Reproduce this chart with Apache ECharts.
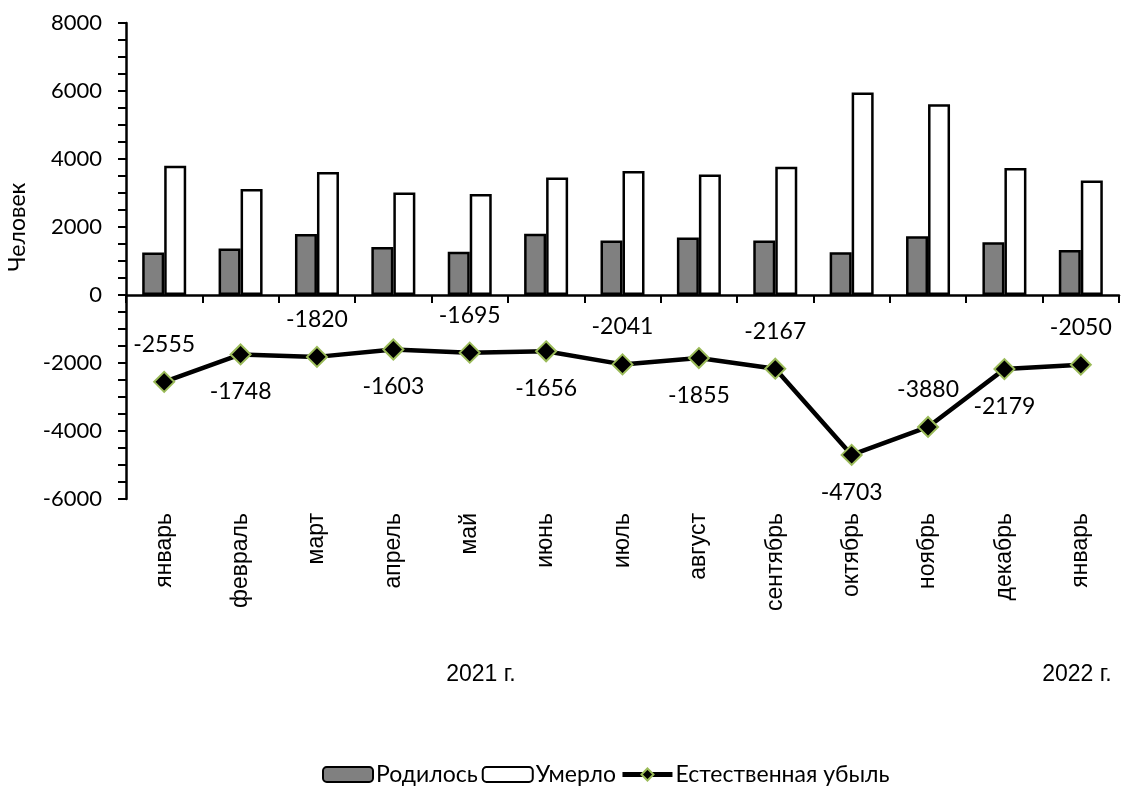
<!DOCTYPE html>
<html>
<head>
<meta charset="utf-8">
<script src="https://cdn.jsdelivr.net/npm/echarts@6/dist/echarts.min.js"></script>
<style>
  html, body { margin: 0; padding: 0; background: #fff; }
  #chart { width: 1131px; height: 792px; }
</style>
</head>
<body>
<div id="chart"></div>
<script>
// months, 2021 Jan .. 2022 Jan
const months = ['январь', 'февраль', 'март', 'апрель', 'май', 'июнь', 'июль',
  'август', 'сентябрь', 'октябрь', 'ноябрь', 'декабрь', 'январь'];
const born = [1250, 1370, 1795, 1415, 1275, 1800, 1605, 1690, 1605, 1255, 1730, 1555, 1320];
const died = [3805, 3118, 3615, 3018, 2970, 3456, 3646, 3545, 3772, 5958, 5610, 3734, 3370];
const naturalLoss = [-2555, -1748, -1820, -1603, -1695, -1656, -2041, -1855, -2167, -4703, -3880, -2179, -2050];
const yearLabels = ['2021 г.', '2022 г.'];

const numFont = 'Lato';
const txtFont = 'Liberation Sans';

const chart = echarts.init(document.getElementById('chart'));

const option = {
  animation: false,
  grid: { left: 126, right: 12, top: 23, bottom: 293, containLabel: false },
  xAxis: [
    {
      type: 'category',
      data: months,
      position: 'bottom',
      axisLine: { onZero: true, lineStyle: { color: '#000', width: 2.5 } },
      axisTick: { show: true, length: 8, lineStyle: { color: '#000', width: 2 } },
      axisLabel: { show: false },
      splitLine: { show: false }
    },
    {
      // labels only, kept at the bottom of the plot
      type: 'category',
      data: months,
      position: 'bottom',
      axisLine: { show: false, onZero: false },
      axisTick: { show: false },
      axisLabel: {
        rotate: 90,
        interval: 0,
        margin: 14,
        color: '#000',
        fontSize: 23,
        fontFamily: txtFont
      }
    }
  ],
  yAxis: {
    type: 'value',
    min: -6000,
    max: 8000,
    interval: 2000,
    axisLine: { show: true, lineStyle: { color: '#000', width: 2.5 } },
    axisTick: { show: true, length: 8, lineStyle: { color: '#000', width: 2 } },
    minorTick: { show: true, splitNumber: 4, length: 8, lineStyle: { color: '#000', width: 2 } },
    splitLine: { show: false },
    axisLabel: {
      color: '#000', fontSize: 22, fontFamily: numFont, margin: 24,
      formatter: (v) => String(v)
    }
  },
  legend: {
    top: 763,
    left: 322,
    padding: 0,
    itemWidth: 50,
    itemHeight: 15,
    itemGap: 4,
    textStyle: { color: '#000', fontSize: 23, fontFamily: numFont, padding: [0, 0, 0, -2] },
    data: [
      { name: 'Родилось' },
      { name: 'Умерло' },
      {
        name: 'Естественная убыль',
        lineStyle: { width: 5, color: '#000' },
        itemStyle: { color: '#000', borderColor: '#9BBB59', borderWidth: 2 }
      }
    ]
  },
  series: [
    {
      name: 'Родилось',
      type: 'bar',
      xAxisIndex: 0,
      data: born,
      barWidth: 22,
      barGap: '0%',
      itemStyle: { color: '#808080', borderColor: '#000', borderWidth: 2.5 }
    },
    {
      name: 'Умерло',
      type: 'bar',
      xAxisIndex: 0,
      data: died,
      barWidth: 22,
      barGap: '0%',
      itemStyle: { color: '#fff', borderColor: '#000', borderWidth: 2.5 }
    },
    {
      name: 'Естественная убыль',
      type: 'line',
      xAxisIndex: 0,
      z: 5,
      data: naturalLoss.map((v, i) => ({
        value: v,
        label: { position: i % 2 === 0 ? 'top' : 'bottom' }
      })),
      symbol: 'diamond',
      symbolSize: 20,
      lineStyle: { color: '#000', width: 4.5 },
      itemStyle: { color: '#000', borderColor: '#9BBB59', borderWidth: 2 },
      label: {
        show: true,
        distance: 15,
        color: '#000',
        fontSize: 23,
        fontFamily: numFont
      }
    }
  ],
  graphic: [
    {
      type: 'text',
      x: 18, y: 227,
      rotation: Math.PI / 2,
      style: { text: 'Человек', fill: '#000', font: '23px ' + numFont, textAlign: 'center', textVerticalAlign: 'middle' }
    },
    {
      type: 'text',
      x: 481, y: 675,
      style: { text: yearLabels[0], fill: '#000', font: '23px "' + txtFont + '"', textAlign: 'center', textVerticalAlign: 'middle' }
    },
    {
      type: 'text',
      x: 1077, y: 675,
      style: { text: yearLabels[1], fill: '#000', font: '23px "' + txtFont + '"', textAlign: 'center', textVerticalAlign: 'middle' }
    }
  ]
};

chart.setOption(option);
window.addEventListener('resize', () => chart.resize());
</script>
</body>
</html>
